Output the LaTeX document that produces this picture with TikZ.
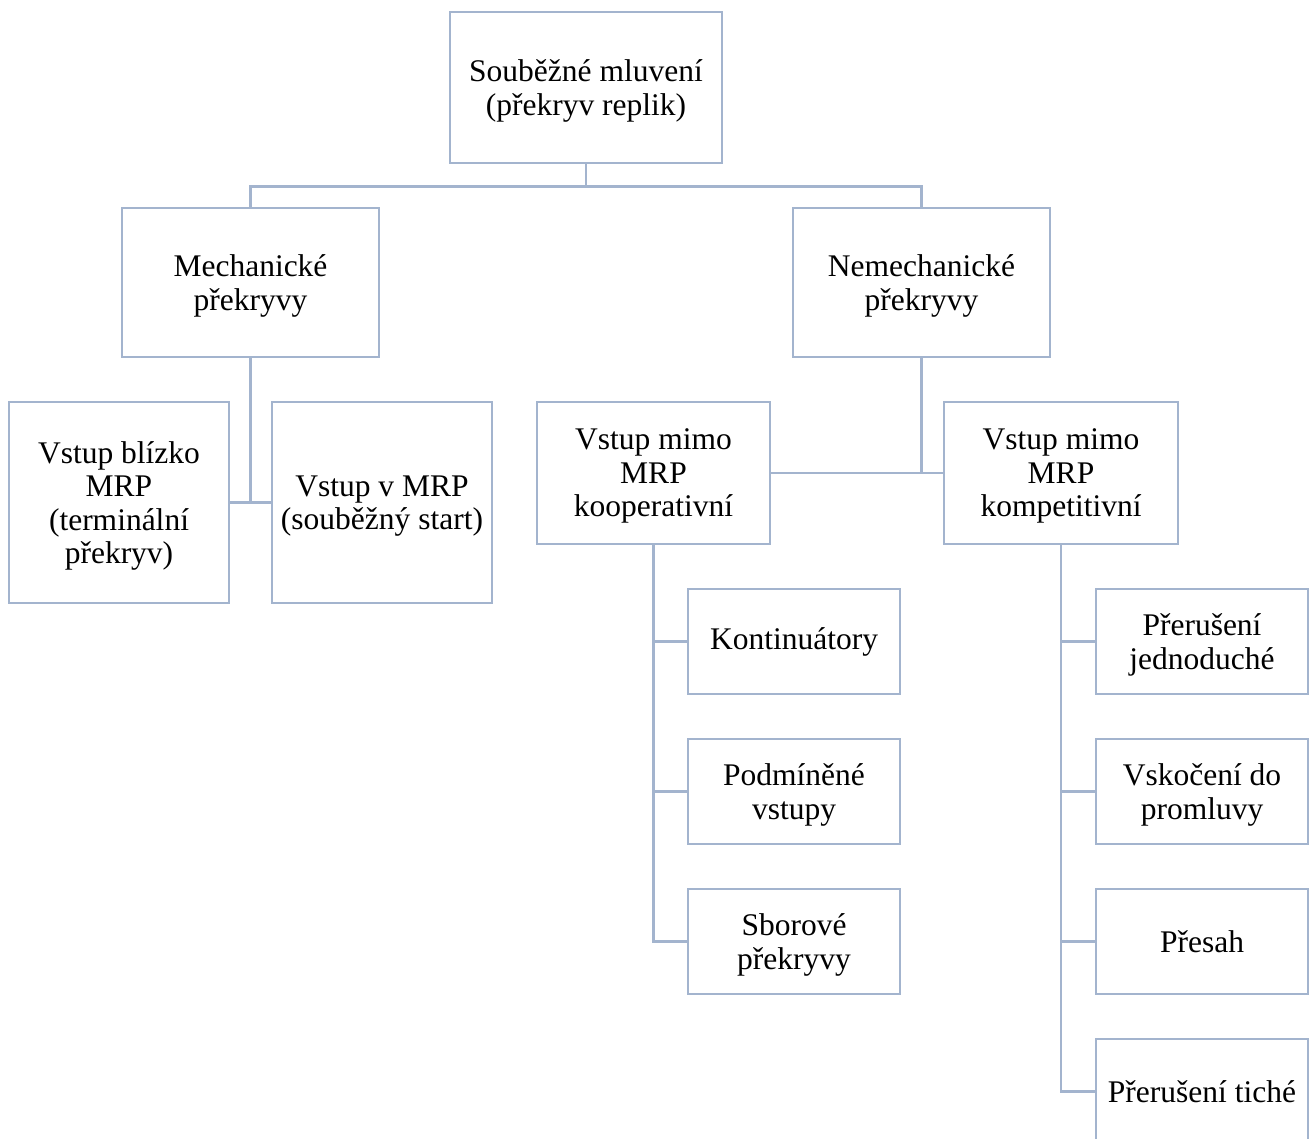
\documentclass[tikz,border=0pt]{standalone}
\usepackage{fontspec}
\setmainfont{Liberation Serif}
\definecolor{lineblue}{HTML}{A3B4CE}
\begin{document}
\begin{tikzpicture}[x=1pt,y=-1pt,
  box/.style={draw=lineblue,line width=2.8pt,fill=white,align=center,inner sep=2pt,
    font=\fontsize{31.5}{33.5}\selectfont},
  mbox/.style={box,text depth=0pt},
  conn/.style={draw=lineblue,line width=2.8pt}]
\useasboundingbox (0,0) rectangle (1312,1139);
\clip (0,0) rectangle (1312,1139);
\node[mbox,minimum width=272pt,minimum height=151pt] (root) at (586,87.5) {Souběžné mluvení\\(překryv replik)};
\node[mbox,minimum width=257pt,minimum height=149pt] (mech) at (250.5,282.5) {Mechanické\\překryvy};
\node[mbox,minimum width=257pt,minimum height=149pt] (nemech) at (921.5,282.5) {Nemechanické\\překryvy};
\node[mbox,minimum width=220pt,minimum height=201pt] (vb) at (119,502.5) {Vstup blízko\\MRP\\(terminální\\překryv)};
\node[mbox,minimum width=220pt,minimum height=201pt] (vm) at (382,502.5) {Vstup v MRP\\(souběžný start)};
\node[mbox,minimum width=233pt,minimum height=142pt] (koop) at (653.5,473) {Vstup mimo\\MRP\\kooperativní};
\node[mbox,minimum width=234pt,minimum height=142pt] (komp) at (1061,473) {Vstup mimo\\MRP\\kompetitivní};
\node[box,minimum width=212pt,minimum height=105pt] (k1) at (794,641.5) {Kontinuátory};
\node[mbox,minimum width=212pt,minimum height=105pt] (k2) at (794,791.5) {Podmíněné\\vstupy};
\node[mbox,minimum width=212pt,minimum height=105pt] (k3) at (794,941.5) {Sborové\\překryvy};
\node[mbox,minimum width=212pt,minimum height=105pt] (c1) at (1202,641.5) {Přerušení\\jednoduché};
\node[mbox,minimum width=212pt,minimum height=105pt] (c2) at (1202,791.5) {Vskočení do\\promluvy};
\node[box,minimum width=212pt,minimum height=105pt] (c3) at (1202,941.5) {Přesah};
\node[box,minimum width=212pt,minimum height=105pt] (c4) at (1202,1091.5) {Přerušení tiché};
\draw[conn] (root.south) -- ++(0,22) coordinate (j1);
\draw[conn] (j1) -| (mech.north);
\draw[conn] (j1) -| (nemech.north);
\draw[conn] (mech.south) |- (vb.east);
\draw[conn] (mech.south) |- (vm.west);
\draw[conn] (nemech.south) |- (koop.east);
\draw[conn] (nemech.south) |- (komp.west);
\draw[conn] (koop.south) |- (k1.west);
\draw[conn] (koop.south) |- (k2.west);
\draw[conn] (koop.south) |- (k3.west);
\draw[conn] (komp.south) |- (c1.west);
\draw[conn] (komp.south) |- (c2.west);
\draw[conn] (komp.south) |- (c3.west);
\draw[conn] (komp.south) |- (c4.west);
\end{tikzpicture}
\end{document}
